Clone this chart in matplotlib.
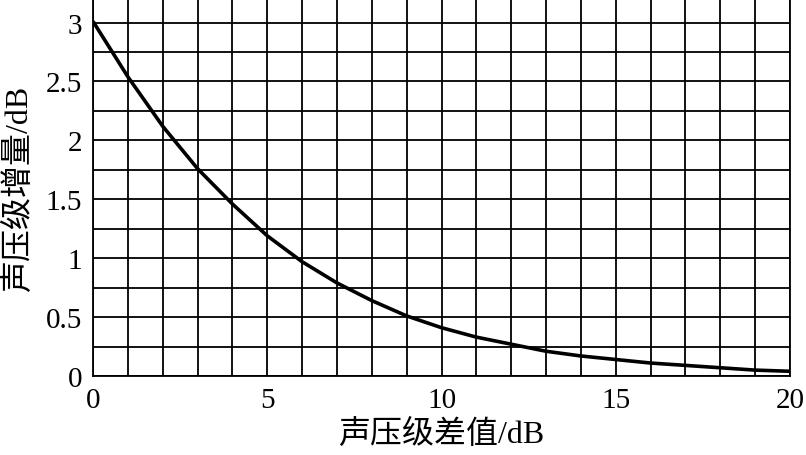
import numpy as np
import matplotlib
matplotlib.use("Agg")
import matplotlib.pyplot as plt
from matplotlib.ticker import MultipleLocator

# ======== DATOS ========
diff_db = [0, 1, 2, 3, 4, 5, 6, 7, 8, 9, 10, 11, 12, 13, 14, 15, 16, 17, 18, 19, 20]
increase_db = [3.01, 2.54, 2.12, 1.76, 1.46, 1.19, 0.97, 0.79, 0.64, 0.51, 0.41,
               0.33, 0.27, 0.21, 0.17, 0.14, 0.11, 0.09, 0.07, 0.05, 0.04]

x_label = "声压级差值/dB"
y_label = "声压级增量/dB"

FONT = ['Liberation Serif', 'Noto Sans CJK SC']
plt.rcParams['font.family'] = FONT

# ======== GRÁFICO ========
fig = plt.figure(figsize=(8.06, 4.56), dpi=100)
ax = fig.add_axes([93 / 806, 1 - 377 / 456, (790 - 93) / 806, 377 / 456])

ax.plot(diff_db, increase_db, color='black', lw=2.6, solid_capstyle='butt',
        solid_joinstyle='round', zorder=3)

ax.set_xlim(0, 20)
ax.set_ylim(0, 3.2)
ax.xaxis.set_major_locator(MultipleLocator(5))
ax.xaxis.set_minor_locator(MultipleLocator(1))
ax.yaxis.set_minor_locator(MultipleLocator(0.25))
ax.set_yticks([0, 0.5, 1, 1.5, 2, 2.5, 3])
ax.set_yticklabels(['0', '0.5', '1', '1.5', '2', '2.5', '3'])
ax.grid(True, which='both', color='black', lw=1.3)
ax.tick_params(which='both', length=0, labelsize=21, pad=8)

for s in ['left', 'bottom', 'right']:
    ax.spines[s].set_linewidth(1.3)
ax.spines['top'].set_visible(False)

ax.set_xlabel(x_label, fontsize=23, labelpad=4)
ax.set_ylabel(y_label, fontsize=23, labelpad=8)

fig.savefig("out.png", dpi=100)
